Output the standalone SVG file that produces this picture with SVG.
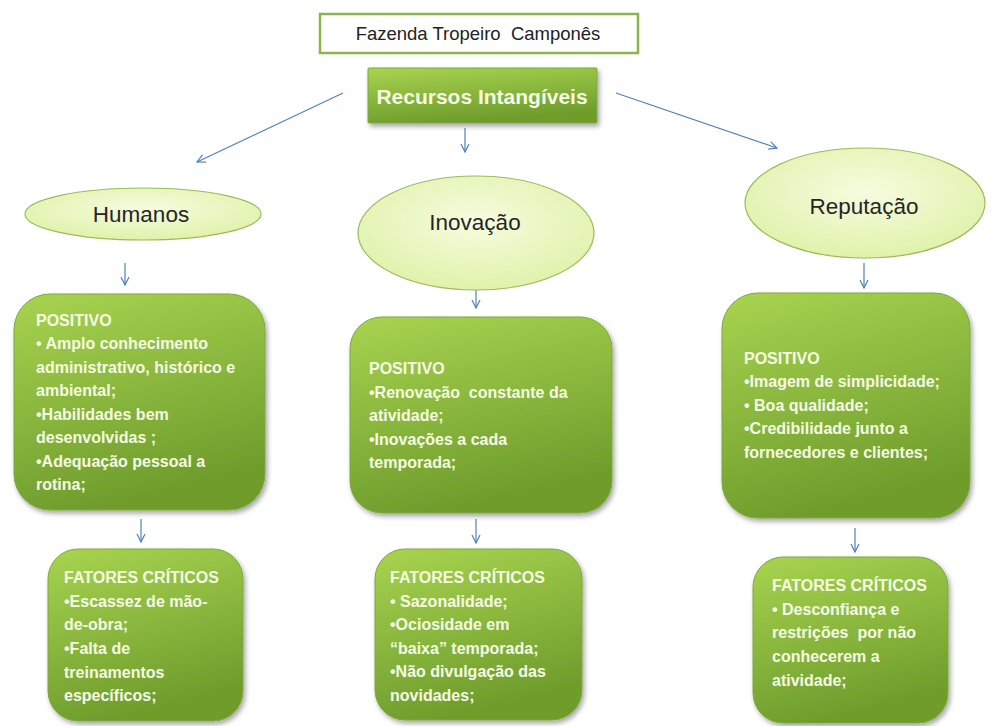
<svg xmlns="http://www.w3.org/2000/svg" width="995" height="726" viewBox="0 0 995 726">
<style>
.box{fill:url(#gb);stroke:#7ea83c;stroke-width:1;filter:url(#sh)}
.ell{fill:url(#ge);stroke:#9bbb59;stroke-width:1.2}
.t{font-family:"Liberation Sans",Arial,sans-serif;font-weight:bold;font-size:16px;fill:#f6fbe4}
.et{font-family:"Liberation Sans",Arial,sans-serif;font-size:22.5px;fill:#262626;text-anchor:middle}
.con line{stroke:#4f81bd;stroke-width:1.2;marker-end:url(#ar)}
</style>
<defs>
<linearGradient id="gb" x1="0" y1="0" x2="0.3" y2="1">
<stop offset="0" stop-color="#a8d450"/>
<stop offset="1" stop-color="#6f9d2c"/>
</linearGradient>
<radialGradient id="ge" cx="0.5" cy="0.4" r="0.6">
<stop offset="0" stop-color="#f6fcdf"/>
<stop offset="1" stop-color="#e0f2ab"/>
</radialGradient>
<filter id="sh" x="-10%" y="-10%" width="125%" height="125%">
<feDropShadow dx="2" dy="3" stdDeviation="2.5" flood-color="#000" flood-opacity="0.35"/>
</filter>
<marker id="ar" markerWidth="10" markerHeight="10" refX="9" refY="5" orient="auto" markerUnits="userSpaceOnUse">
<path d="M1,1 L9,5 L1,9" fill="none" stroke="#4f81bd" stroke-width="1.2"/>
</marker>
</defs>
<rect width="995" height="726" fill="#fff"/>

<g id="title">
<rect x="320" y="14" width="318" height="39" fill="#fff" stroke="#8cb44a" stroke-width="2.5"/>
<text x="478" y="40" font-family="Liberation Sans,Arial,sans-serif" font-size="18.5" fill="#222" text-anchor="middle" xml:space="preserve">Fazenda Tropeiro  Camponês</text>
</g>

<g id="recursos">
<rect x="368" y="68" width="229" height="55" class="box" rx="1"/>
<text x="482" y="104" font-family="Liberation Sans,Arial,sans-serif" font-weight="bold" font-size="21" fill="#f6fbe4" text-anchor="middle">Recursos Intangíveis</text>
</g>

<g class="con">
<line x1="343" y1="93" x2="197" y2="162"/>
<line x1="465" y1="128" x2="465" y2="152"/>
<line x1="616" y1="93" x2="777" y2="148"/>
<line x1="125" y1="263" x2="125" y2="285"/>
<line x1="476" y1="289" x2="476" y2="308"/>
<line x1="864" y1="263" x2="864" y2="288"/>
<line x1="141" y1="519" x2="141" y2="542"/>
<line x1="476" y1="519" x2="476" y2="543"/>
<line x1="855" y1="528" x2="855" y2="552"/>
</g>

<g id="humanos">
<ellipse cx="143" cy="214" rx="118" ry="26" class="ell"/>
<text x="141" y="222" class="et">Humanos</text>
</g>
<g id="inovacao">
<ellipse cx="476" cy="233" rx="118" ry="57" class="ell"/>
<text x="475" y="230" class="et">Inovação</text>
</g>
<g id="reputacao">
<ellipse cx="865" cy="203" rx="120" ry="55" class="ell"/>
<text x="864" y="214" class="et">Reputação</text>
</g>

<g id="pos-humanos">
<rect x="14" y="294" width="251" height="216" rx="36" class="box"/>
<text class="t">
<tspan x="36" y="326">POSITIVO</tspan>
<tspan x="36" y="349">• Amplo conhecimento</tspan>
<tspan x="36" y="373">administrativo, histórico e</tspan>
<tspan x="36" y="396">ambiental;</tspan>
<tspan x="36" y="420">•Habilidades bem</tspan>
<tspan x="36" y="443">desenvolvidas ;</tspan>
<tspan x="36" y="467">•Adequação pessoal a</tspan>
<tspan x="36" y="490">rotina;</tspan>
</text>
</g>

<g id="pos-inovacao">
<rect x="350" y="317" width="262" height="196" rx="32" class="box"/>
<text class="t" xml:space="preserve">
<tspan x="369" y="374">POSITIVO</tspan>
<tspan x="369" y="398">•Renovação  constante da</tspan>
<tspan x="369" y="421">atividade;</tspan>
<tspan x="369" y="445">•Inovações a cada</tspan>
<tspan x="369" y="468">temporada;</tspan>
</text>
</g>

<g id="pos-reputacao">
<rect x="722" y="293" width="248" height="225" rx="36" class="box"/>
<text class="t">
<tspan x="744" y="364">POSITIVO</tspan>
<tspan x="744" y="387">•Imagem de simplicidade;</tspan>
<tspan x="744" y="411">• Boa qualidade;</tspan>
<tspan x="744" y="434">•Credibilidade junto a</tspan>
<tspan x="744" y="458">fornecedores e clientes;</tspan>
</text>
</g>

<g id="crit-humanos">
<rect x="48" y="549" width="195" height="172" rx="30" class="box"/>
<text class="t">
<tspan x="64" y="583">FATORES CRÍTICOS</tspan>
<tspan x="64" y="607">•Escassez de mão-</tspan>
<tspan x="64" y="630">de-obra;</tspan>
<tspan x="64" y="654">•Falta de</tspan>
<tspan x="64" y="678">treinamentos</tspan>
<tspan x="64" y="701">específicos;</tspan>
</text>
</g>

<g id="crit-inovacao">
<rect x="375" y="549" width="207" height="171" rx="30" class="box"/>
<text class="t">
<tspan x="390" y="583">FATORES CRÍTICOS</tspan>
<tspan x="390" y="607">• Sazonalidade;</tspan>
<tspan x="390" y="630">•Ociosidade em</tspan>
<tspan x="390" y="654">“baixa” temporada;</tspan>
<tspan x="390" y="677">•Não divulgação das</tspan>
<tspan x="390" y="701">novidades;</tspan>
</text>
</g>

<g id="crit-reputacao">
<rect x="753" y="557" width="195" height="166" rx="30" class="box"/>
<text class="t" xml:space="preserve">
<tspan x="772" y="591">FATORES CRÍTICOS</tspan>
<tspan x="772" y="615">• Desconfiança e</tspan>
<tspan x="772" y="638">restrições  por não</tspan>
<tspan x="772" y="662">conhecerem a</tspan>
<tspan x="772" y="686">atividade;</tspan>
</text>
</g>
</svg>
